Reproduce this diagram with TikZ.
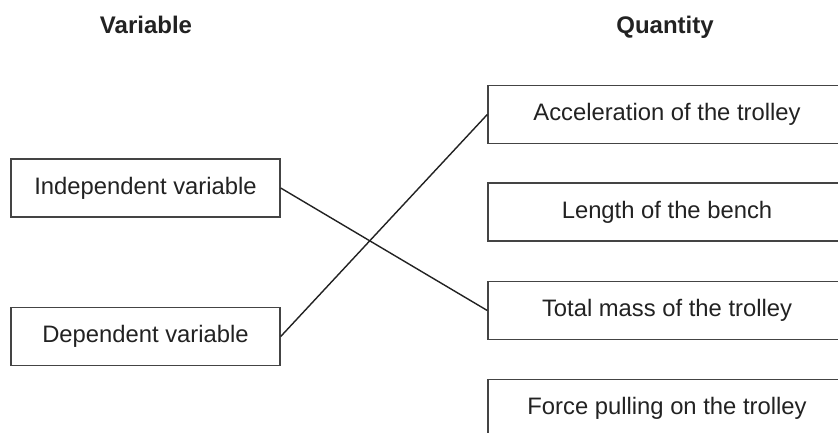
\documentclass[tikz,border=0pt]{standalone}
\usepackage{fontspec}
\setmainfont{Liberation Sans}
\definecolor{ink}{HTML}{222222}
\definecolor{frame}{HTML}{444444}
\begin{document}
\begin{tikzpicture}[x=1pt,y=-1pt,
  lbox/.style={draw=frame,line width=1.4pt,fill=white,minimum width=269pt,minimum height=58pt,inner sep=0pt,text=ink,font=\fontsize{23.8}{27}\selectfont},
  rbox/.style={lbox,minimum width=358pt},
  head/.style={text=ink,anchor=base,font=\fontsize{24}{28}\selectfont\bfseries},
  link/.style={draw=ink,line width=1.4pt}]
\clip (0,0) rectangle (838,432);
\fill[white] (0,0) rectangle (838,432);
\node[head] (hv) at (146,33) {Variable};
\node[head] (hq) at (665,33) {Quantity};
\node[lbox] (ind) at (145.5,188) {Independent variable};
\node[lbox] (dep) at (145.5,336.5) {Dependent variable};
\node[rbox] (acc) at (667,114.5) {Acceleration of the trolley};
\node[rbox] (len) at (667,212) {Length of the bench};
\node[rbox] (mass) at (667,310.5) {Total mass of the trolley};
\node[rbox] (force) at (667,408.5) {Force pulling on the trolley};
\draw[link] (ind.east) -- (mass.west);
\draw[link] (dep.east) -- (acc.west);
\end{tikzpicture}
\end{document}
